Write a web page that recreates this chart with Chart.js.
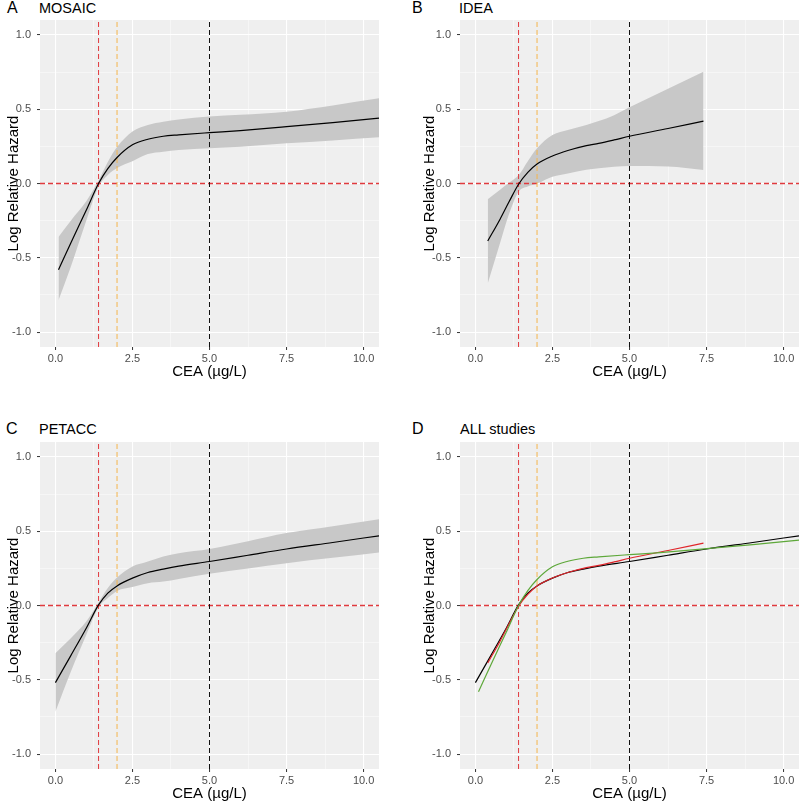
<!DOCTYPE html>
<html>
<head>
<meta charset="utf-8">
<script src="https://cdn.jsdelivr.net/npm/chart.js@4.4.1/dist/chart.umd.min.js"></script>
<style>
body { margin: 0; background: #fff; width: 800px; height: 802px; position: relative; overflow: hidden;
       font-family: "Liberation Sans", Arial, sans-serif; }
.panel { position: absolute; width: 400px; height: 380px; }
.tag { position: absolute; font-size: 16px; line-height: 16px; color: #000; white-space: nowrap; }
.name { position: absolute; font-size: 14.5px; line-height: 16px; color: #000; white-space: nowrap; }
</style>
</head>
<body>
<div class="tag" style="left:7px;top:0px">A</div><div class="name" style="left:39px;top:0px">MOSAIC</div>
<div class="tag" style="left:412px;top:0px">B</div><div class="name" style="left:459px;top:0px">IDEA</div>
<div class="tag" style="left:6px;top:421px">C</div><div class="name" style="left:39px;top:421px">PETACC</div>
<div class="tag" style="left:412px;top:421px">D</div><div class="name" style="left:460px;top:421px">ALL studies</div>

<canvas id="chartA" class="panel" width="400" height="380" style="left:0;top:0"></canvas>
<canvas id="chartB" class="panel" width="400" height="380" style="left:400px;top:0"></canvas>
<canvas id="chartC" class="panel" width="400" height="380" style="left:0;top:422px"></canvas>
<canvas id="chartD" class="panel" width="400" height="380" style="left:400px;top:422px"></canvas>

<script>
// axis ticks
const xTicks = [0, 2.5, 5, 7.5, 10];
const xMinor = [1.25, 3.75, 6.25, 8.75];
const yTicks = [-1, -0.5, 0, 0.5, 1];
const yMinor = [-0.75, -0.25, 0.25, 0.75];
const xRange = [-0.5, 10.5];
const yRange = [-1.1, 1.1];

// reference lines
const cutRed = 1.4;
const cutOrange = 2.0;
const cutBlack = 5.0;
const hazardZero = 0;

// MOSAIC
const mosaicX    = [0.1, 0.5, 1.0, 1.4, 1.7, 2.0, 2.5, 3.0, 3.5, 4.0, 5.0, 6.0, 7.5, 9.0, 10.5];
const mosaicFit  = [-0.58, -0.40, -0.18, 0.0, 0.10, 0.175, 0.26, 0.298, 0.318, 0.327, 0.342, 0.356, 0.382, 0.41, 0.44];
const mosaicHigh = [-0.36, -0.25, -0.12, 0.02, 0.145, 0.245, 0.35, 0.394, 0.416, 0.43, 0.45, 0.462, 0.483, 0.525, 0.573];
const mosaicLow  = [-0.785, -0.56, -0.25, -0.02, 0.058, 0.105, 0.15, 0.198, 0.214, 0.225, 0.237, 0.248, 0.27, 0.29, 0.311];

// IDEA
const ideaX    = [0.4, 0.8, 1.1, 1.4, 1.7, 2.0, 2.5, 3.0, 3.6, 4.0, 4.5, 5.0, 6.25, 7.4];
const ideaFit  = [-0.387, -0.24, -0.12, -0.005, 0.075, 0.131, 0.185, 0.222, 0.255, 0.27, 0.293, 0.318, 0.37, 0.42];
const ideaHigh = [-0.106, -0.042, 0.006, 0.055, 0.15, 0.237, 0.326, 0.36, 0.394, 0.42, 0.46, 0.513, 0.637, 0.752];
const ideaLow  = [-0.672, -0.40, -0.20, -0.055, -0.02, 0.0, 0.046, 0.068, 0.092, 0.102, 0.112, 0.118, 0.115, 0.091];

// PETACC
const petaccX    = [0.0, 0.5, 1.0, 1.4, 1.7, 2.0, 2.5, 3.0, 3.5, 4.0, 5.0, 6.25, 7.5, 9.0, 10.5];
const petaccFit  = [-0.519, -0.337, -0.153, 0.004, 0.083, 0.132, 0.184, 0.222, 0.245, 0.265, 0.296, 0.338, 0.38, 0.424, 0.469];
const petaccHigh = [-0.321, -0.22, -0.108, 0.02, 0.117, 0.188, 0.262, 0.296, 0.33, 0.352, 0.38, 0.433, 0.487, 0.534, 0.581];
const petaccLow  = [-0.714, -0.445, -0.198, -0.012, 0.05, 0.098, 0.124, 0.15, 0.161, 0.179, 0.213, 0.249, 0.285, 0.321, 0.357];

const ribbonColor = '#c8c8c8';
const redDash = '#e03a3e';
const orangeDash = '#f4b54c';

function pts(xs, ys) {
    return xs.map((x, i) => ({ x: x, y: ys[i] }));
}

function isMinor(list, v) {
    return list.some(m => Math.abs(m - v) < 1e-9);
}

function refLine(p0, p1, color, w) {
    return { data: [p0, p1], borderColor: color, backgroundColor: color, borderWidth: w || 1,
             borderDash: [5, 3], pointRadius: 0, fill: false, order: 1 };
}

function refLines() {
    return [
        refLine({ x: cutRed, y: yRange[0] }, { x: cutRed, y: yRange[1] }, redDash),
        refLine({ x: cutOrange, y: yRange[0] }, { x: cutOrange, y: yRange[1] }, orangeDash),
        refLine({ x: cutBlack, y: yRange[0] }, { x: cutBlack, y: yRange[1] }, '#111111'),
        refLine({ x: xRange[0], y: hazardZero }, { x: xRange[1], y: hazardZero }, redDash, 1.4)
    ];
}

function curve(xs, ys, color) {
    return { data: pts(xs, ys), borderColor: color, borderWidth: 1.2, pointRadius: 0,
             cubicInterpolationMode: 'monotone', fill: false, order: 0 };
}

function ribbon(xs, lo, hi) {
    return [
        { data: pts(xs, lo), borderWidth: 0, borderColor: 'rgba(0,0,0,0)', pointRadius: 0,
          cubicInterpolationMode: 'monotone', fill: false, order: 2 },
        { data: pts(xs, hi), borderWidth: 0, borderColor: 'rgba(0,0,0,0)', pointRadius: 0,
          cubicInterpolationMode: 'monotone', fill: '-1', backgroundColor: ribbonColor, order: 2 }
    ];
}

const panelBg = {
    id: 'panelBg',
    beforeDraw(chart) {
        const a = chart.chartArea;
        const ctx = chart.ctx;
        ctx.save();
        ctx.fillStyle = '#efefef';
        ctx.fillRect(a.left, a.top, a.right - a.left, a.bottom - a.top);
        ctx.restore();
    }
};

function makePanel(id, datasets, padLeft, yWidth, padRight) {
    const gridColor = (minor) => (ctx) => isMinor(minor, ctx.tick.value) ? 'rgba(255,255,255,0.7)' : '#ffffff';
    const gridWidth = (minor) => (ctx) => isMinor(minor, ctx.tick.value) ? 0.6 : 1.1;
    const tickColor = (minor) => (ctx) => isMinor(minor, ctx.tick.value) ? 'rgba(0,0,0,0)' : '#333333';
    return new Chart(document.getElementById(id), {
        type: 'line',
        data: { datasets: datasets },
        plugins: [panelBg],
        options: {
            responsive: false,
            animation: false,
            devicePixelRatio: 1,
            layout: { padding: { left: padLeft, top: 20, right: padRight, bottom: 0 } },
            plugins: { legend: { display: false }, tooltip: { enabled: false } },
            scales: {
                x: {
                    type: 'linear', min: xRange[0], max: xRange[1],
                    afterBuildTicks: (s) => { s.ticks = xTicks.concat(xMinor).sort((a, b) => a - b).map(v => ({ value: v })); },
                    afterFit: (s) => { s.height = 33; },
                    border: { display: false },
                    grid: { color: gridColor(xMinor), lineWidth: gridWidth(xMinor), tickColor: tickColor(xMinor),
                            tickLength: 3, tickWidth: 1 },
                    ticks: { color: '#4d4d4d', font: { size: 11, family: '"Liberation Sans", Arial' }, padding: 2,
                             maxRotation: 0, autoSkip: false,
                             callback: (v) => isMinor(xMinor, v) ? '' : v.toFixed(1) },
                    title: { display: true, text: 'CEA (µg/L)', color: '#000',
                             font: { size: 15, family: '"Liberation Sans", Arial' }, padding: { top: 0, bottom: -1 } }
                },
                y: {
                    type: 'linear', min: yRange[0], max: yRange[1],
                    afterBuildTicks: (s) => { s.ticks = yTicks.concat(yMinor).sort((a, b) => a - b).map(v => ({ value: v })); },
                    afterFit: (s) => { s.width = yWidth; },
                    border: { display: false },
                    grid: { color: gridColor(yMinor), lineWidth: gridWidth(yMinor), tickColor: tickColor(yMinor),
                            tickLength: 3, tickWidth: 1 },
                    ticks: { color: '#4d4d4d', font: { size: 11, family: '"Liberation Sans", Arial' }, padding: 6,
                             autoSkip: false,
                             callback: (v) => isMinor(yMinor, v) ? '' : v.toFixed(1) },
                    title: { display: true, text: 'Log Relative Hazard', color: '#000',
                             font: { size: 15, family: '"Liberation Sans", Arial' }, padding: { top: 5, bottom: 0 } }
                }
            }
        }
    });
}

makePanel('chartA',
    [curve(mosaicX, mosaicFit, '#000')].concat(refLines(), ribbon(mosaicX, mosaicLow, mosaicHigh)),
    0, 40, 21);
makePanel('chartB',
    [curve(ideaX, ideaFit, '#000')].concat(refLines(), ribbon(ideaX, ideaLow, ideaHigh)),
    16, 44, 1);
makePanel('chartC',
    [curve(petaccX, petaccFit, '#000')].concat(refLines(), ribbon(petaccX, petaccLow, petaccHigh)),
    0, 40, 21);
makePanel('chartD',
    [curve(mosaicX, mosaicFit, '#5ea83a'), curve(ideaX, ideaFit, '#e0262b'), curve(petaccX, petaccFit, '#000')]
        .concat(refLines()),
    16, 44, 1);
</script>
</body>
</html>
